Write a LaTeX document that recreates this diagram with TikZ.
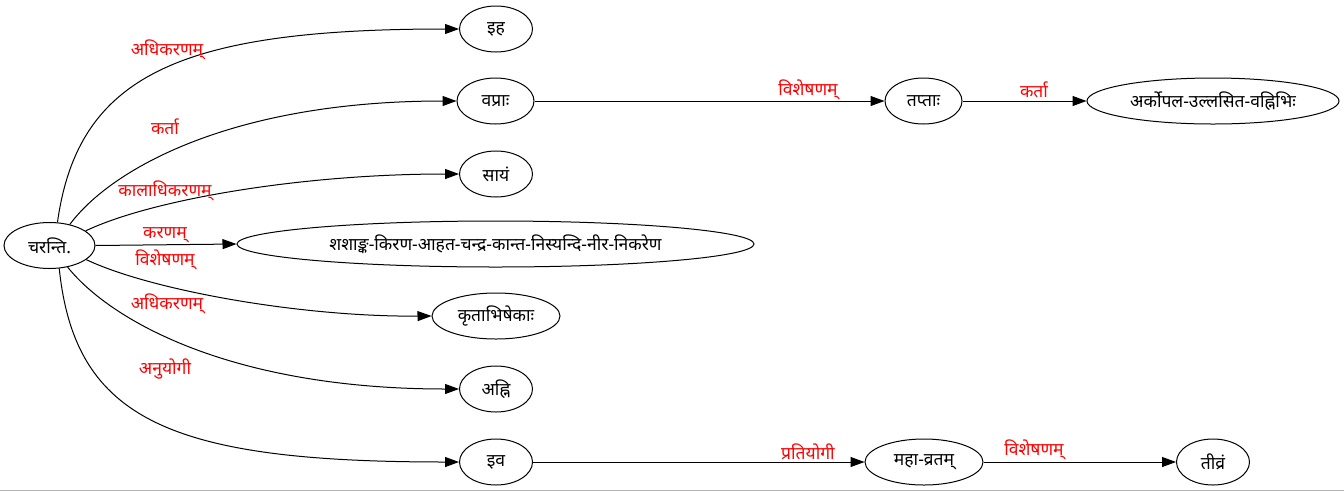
\documentclass[tikz,border=0pt]{standalone}
\usepackage{fontspec}
\newfontfamily\deva[Script=Devanagari]{Noto Sans}
\usetikzlibrary{arrows.meta,shapes.geometric}

\tikzset{
  word/.style={draw,ellipse,line width=1pt,inner sep=0pt,minimum height=46pt,
    font=\deva\fontsize{17.5}{20}\selectfont},
  rel/.style={text=red,inner sep=0pt,font=\deva\fontsize{17.5}{20}\selectfont},
  edge/.style={line width=1pt,-{Triangle[length=14pt,width=10pt]}}
}

\begin{document}
\begin{tikzpicture}[x=1pt,y=-1pt]
\useasboundingbox (0,0) rectangle (1344,491);

% Words
\node[word,minimum width=91pt] (root) at (49.5,245.5) {चरन्ति.};
\node[word,minimum width=73pt] (ih) at (496,29) {इह};
\node[word,minimum width=77pt] (vapra) at (495.5,101) {वप्राः};
\node[word,minimum width=73pt] (sayam) at (496,174) {सायं};
\node[word,minimum width=517pt] (shasha) at (495.5,244) {शशाङ्क-किरण-आहत-चन्द्र-कान्त-निस्यन्दि-नीर-निकरेण};
\node[word,minimum width=128pt] (krta) at (496,316) {कृताभिषेकाः};
\node[word,minimum width=73pt] (ahni) at (496,389) {अह्नि};
\node[word,minimum width=73pt] (iva) at (496,462) {इव};
\node[word,minimum width=77pt] (tapta) at (923.5,101) {तप्ताः};
\node[word,minimum width=252pt] (arka) at (1213,101) {अर्कोपल-उल्लसित-वह्निभिः};
\node[word,minimum width=118pt] (vrata) at (924,462) {महा-व्रतम्};
\node[word,minimum width=73pt] (tivra) at (1213,462) {तीव्रं};

% Relations from the root
\draw[edge] (root.71) .. controls (78,75) and (180,29) .. (ih.west);
\draw[edge] (root.46) .. controls (110,170) and (230,101) .. (vapra.west);
\draw[edge] (root.22) .. controls (150,200) and (300,174) .. (sayam.west);
\draw[edge] (root.east) -- (shasha.west);
\draw[edge] (root.-21) .. controls (150,290) and (300,317) .. (krta.west);
\draw[edge] (root.-50) .. controls (110,320) and (230,389) .. (ahni.west);
\draw[edge] (root.-67) .. controls (75,420) and (170,462) .. (iva.west);

% Chains on the right
\draw[edge] (vapra.east) -- (tapta.west);
\draw[edge] (tapta.east) -- (arka.west);
\draw[edge] (iva.east) -- (vrata.west);
\draw[edge] (vrata.east) -- (tivra.west);

% Labels
\node[rel] (l1) at (167,50) {अधिकरणम्};
\node[rel] (l2) at (165,127) {कर्ता};
\node[rel] (l3) at (165,191) {कालाधिकरणम्};
\node[rel] (l4) at (165,235) {करणम्};
\node[rel] (l5) at (165,260) {विशेषणम्};
\node[rel] (l6) at (167,304) {अधिकरणम्};
\node[rel] (l7) at (165,369) {अनुयोगी};
\node[rel] (l8) at (808,90) {विशेषणम्};
\node[rel] (l9) at (1034,90) {कर्ता};
\node[rel] (l10) at (808,452) {प्रतियोगी};
\node[rel] (l11) at (1034,450) {विशेषणम्};

% Frame edge
\draw[gray!60,line width=1pt] (0,490) -- (1344,490);
\end{tikzpicture}
\end{document}
